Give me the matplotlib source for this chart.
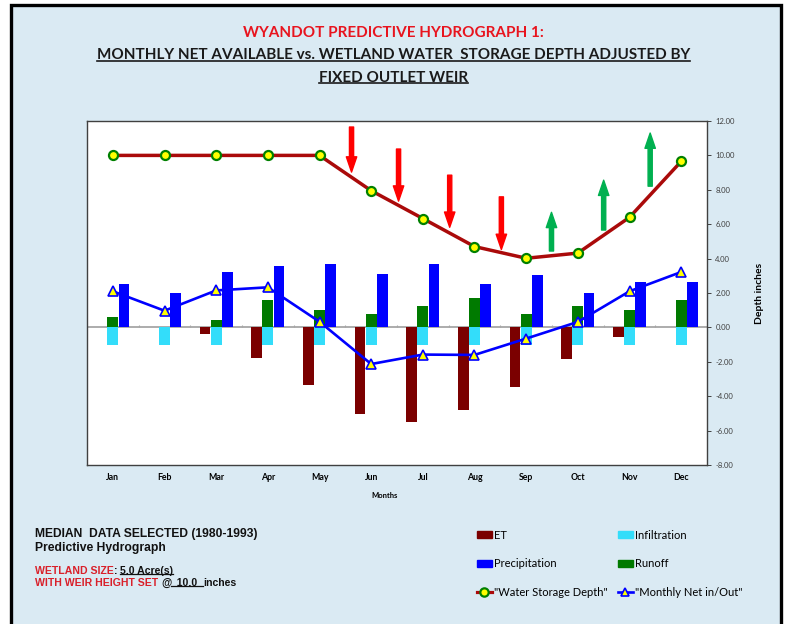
import matplotlib
matplotlib.use('Agg')
import matplotlib.pyplot as plt
import numpy as np
from matplotlib.patches import Rectangle, Patch
from matplotlib.lines import Line2D

months = ['Jan', 'Feb', 'Mar', 'Apr', 'May', 'Jun', 'Jul', 'Aug', 'Sep', 'Oct', 'Nov', 'Dec']
et = [0, 0, -0.38, -1.76, -3.37, -5.03, -5.49, -4.83, -3.47, -1.84, -0.54, 0]
infiltration = [-1.0, -1.0, -1.0, -1.0, -1.0, -1.0, -1.0, -1.0, -1.0, -1.0, -1.0, -1.0]
precipitation = [2.55, 1.99, 3.2, 3.56, 3.66, 3.1, 3.7, 2.55, 3.06, 1.99, 2.65, 2.65]
runoff = [0.63, 0, 0.41, 1.62, 1.04, 0.8, 1.23, 1.72, 0.8, 1.23, 1.04, 1.58]
net = [2.1, 0.97, 2.15, 2.33, 0.33, -2.13, -1.58, -1.6, -0.65, 0.32, 2.1, 3.22]
storage = [10.0, 10.0, 10.0, 10.0, 10.0, 7.95, 6.33, 4.7, 4.02, 4.32, 6.4, 9.65]

# drawn-on arrows (falling / rising water level)
down_x = [4.62, 5.53, 6.52, 7.52]
down_top = [11.65, 10.37, 8.85, 7.59]
down_tip = [9.03, 7.34, 5.82, 4.53]
up_x = [8.49, 9.5, 10.4]
up_base = [4.44, 5.66, 8.21]
up_tip = [6.69, 8.56, 11.3]

W, H = 787, 624
fig = plt.figure(figsize=(W / 100, H / 100), dpi=100, facecolor='white')
bg = '#DAEAF3'
fig.patches.append(Rectangle((11 / W, -0.05), 770 / W, 1.05 - 5 / H, transform=fig.transFigure,
                             facecolor=bg, edgecolor='black', linewidth=2.4, zorder=-5))

ax = fig.add_axes([87 / W, 1 - 465 / H, 620 / W, 344 / H])
ax.set_facecolor('white')
x = np.arange(len(months))
bw = 0.21
ax.bar(x - 0.215, et, bw, color='#7B0000', zorder=2)
ax.bar(x, infiltration, bw, color='#33DDFA', zorder=2)
ax.bar(x, runoff, bw, color='#007A00', zorder=2)
ax.bar(x + 0.215, precipitation, bw, color='#0000FF', zorder=2)

ax.axhline(0, color='#A6A6A6', lw=1.3, zorder=1)
ax.vlines(np.arange(0.5, 11), 0, 0.13, color='#A6A6A6', lw=0.8, zorder=1)

ax.plot(x, storage, color='#AA0A0A', lw=2.5, marker='o', ms=6.5, mfc='#FFFF00',
        mec='#008000', mew=1.6, zorder=4)
ax.plot(x, net, color='#0000FF', lw=1.9, marker='^', ms=7, mfc='#FFFF00',
        mec='#0000FF', mew=1.2, zorder=4)

for xa, y0, y1 in zip(down_x, down_top, down_tip):
    ax.annotate('', xy=(xa, y1), xytext=(xa, y0),
                arrowprops=dict(arrowstyle='simple,head_length=1.1,head_width=0.75,tail_width=0.3',
                                color='#FF0000', shrinkA=0, shrinkB=0, mutation_scale=10), zorder=5)
for xa, y0, y1 in zip(up_x, up_base, up_tip):
    ax.annotate('', xy=(xa, y1), xytext=(xa, y0),
                arrowprops=dict(arrowstyle='simple,head_length=1.1,head_width=0.75,tail_width=0.3',
                                color='#00B050', shrinkA=0, shrinkB=0, mutation_scale=10), zorder=5)

ax.set_xlim(-0.5, 11.5)
ax.set_ylim(-8, 12)
ax.set_yticks(np.arange(-8, 13, 2))
ax.set_yticklabels(['%.2f' % v for v in np.arange(-8, 13, 2)])
ax.yaxis.tick_right()
ax.tick_params(axis='y', labelsize=5.5, colors='#404040', length=3, width=0.7, pad=3)
ax.set_xticks(x)
ax.set_xticklabels(months, fontsize=6.3, fontweight='bold', family='Lato')
ax.tick_params(axis='x', length=0, pad=6)
for s in ax.spines.values():
    s.set_color('#404040')
    s.set_linewidth(1.0)
for t in ax.get_yticklabels():
    t.set_family('Lato')
ax.set_ylabel('Depth inches', fontsize=7.5, fontweight='bold', family='Lato')
ax.yaxis.set_label_position('right')
ax.yaxis.set_label_coords(1.077, 0.5)
fig.text(385 / W, 1 - 496 / H, 'Months', fontsize=5.5, fontweight='bold', family='Lato',
         ha='center', va='center')

renderer = fig.canvas.get_renderer()


def underline(t, lw=1.2, off=1.5):
    bb = t.get_window_extent(renderer)
    y = (bb.y0 + off) / H
    fig.lines.append(Line2D([bb.x0 / W, bb.x1 / W], [y, y], transform=fig.transFigure,
                            color=t.get_color(), lw=lw))


# titles
fig.text(0.5, 1 - 33 / H, 'WYANDOT PREDICTIVE HYDROGRAPH 1:', color='#E8141E', fontsize=11,
         fontweight='bold', family='Lato', ha='center', va='center')
t2 = fig.text(0.5, 1 - 55 / H, 'MONTHLY NET AVAILABLE vs. WETLAND WATER  STORAGE DEPTH ADJUSTED BY',
              color='#1A1A1A', fontsize=11, fontweight='bold', family='Lato', ha='center', va='center')
t3 = fig.text(0.5, 1 - 77.5 / H, 'FIXED OUTLET WEIR', color='#1A1A1A', fontsize=11,
              fontweight='bold', family='Lato', ha='center', va='center')
underline(t2)
underline(t3)


def pieces(x0, y, parts, size):
    # parts: (text, color, underlined)
    xp = x0
    for txt, col, ul in parts:
        t = fig.text(xp / W, 1 - y / H, txt, color=col, fontsize=size, fontweight='bold',
                     family='Liberation Sans', ha='left', va='baseline')
        bb = t.get_window_extent(renderer)
        if ul:
            underline(t, lw=0.9, off=2)
        xp = bb.x1


fig.text(35 / W, 1 - 537 / H, 'MEDIAN  DATA SELECTED (1980-1993)', fontsize=8.7, fontweight='bold',
         family='Liberation Sans', color='#111111', va='baseline')
fig.text(35 / W, 1 - 551.5 / H, 'Predictive Hydrograph', fontsize=8.7, fontweight='bold',
         family='Liberation Sans', color='#111111', va='baseline')
pieces(35, 574, [('WETLAND SIZE', '#D9202A', False), (': ', '#111111', False),
                 ('5.0 Acre(s)', '#111111', True)], 7.6)
pieces(35, 586, [('WITH WEIR HEIGHT SET ', '#D9202A', False), ('@', '#111111', False),
                 ('  10.0  ', '#111111', True), ('inches', '#111111', False)], 7.6)

# legend
handles = [Patch(color='#7B0000'), Patch(color='#0000FF'),
           Line2D([], [], color='#AA0A0A', lw=2.3, marker='o', ms=6, mfc='#FFFF00', mec='#008000', mew=1.6),
           Patch(color='#33DDFA'), Patch(color='#007A00'),
           Line2D([], [], color='#0000FF', lw=1.9, marker='^', ms=6, mfc='#FFFF00', mec='#0000FF', mew=1.2)]
labels = ['ET', 'Precipitation', '"Water Storage Depth"', 'Infiltration', 'Runoff', '"Monthly Net in/Out"']
fig.legend(handles, labels, ncol=2, loc='upper left', bbox_to_anchor=(471 / W, 1 - 524 / H),
           frameon=False, prop={'family': 'Lato', 'size': 8}, handlelength=1.4, handleheight=0.6,
           handletextpad=0.15, labelspacing=1.6, columnspacing=0.9, borderpad=0)

fig.savefig('out.png', dpi=100, facecolor='white')
